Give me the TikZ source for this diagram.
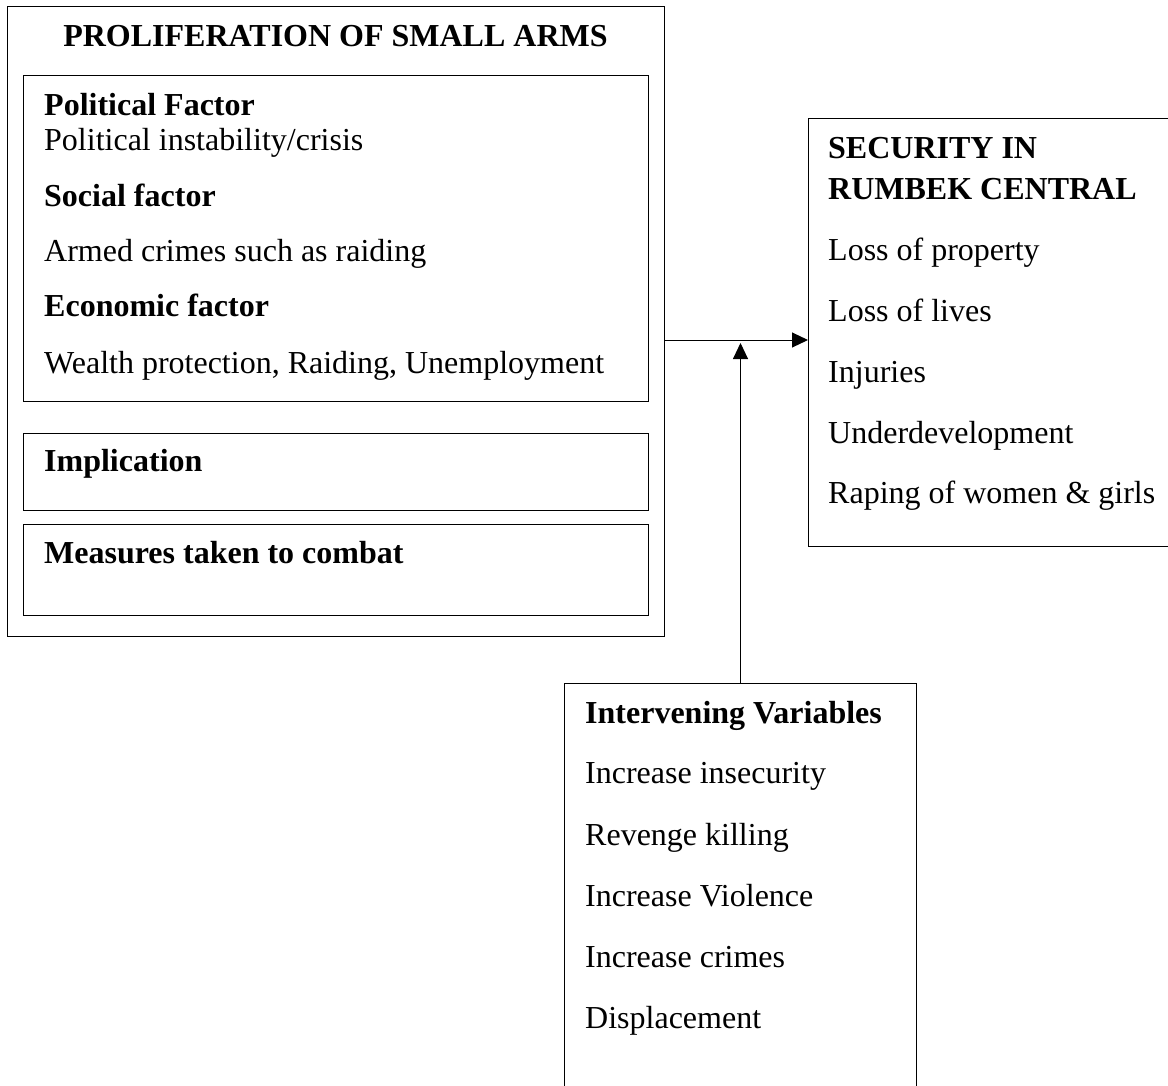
\documentclass[tikz,border=0pt]{standalone}
\usepackage{fontspec}
\setmainfont{Liberation Serif}
\usetikzlibrary{arrows.meta}
\begin{document}
\begin{tikzpicture}[x=1pt,y=-1pt,
  box/.style={draw=black, line width=1pt, inner sep=0pt, anchor=north west},
  txt/.style={anchor=base west, inner sep=0pt, font=\fontsize{32}{38}\selectfont},
  hd/.style={anchor=base west, inner sep=0pt, font=\fontsize{32}{38}\selectfont\bfseries},
  arr/.style={line width=1pt, -{Triangle[length=16pt,width=15pt]}}]
\clip (0,0) rectangle (1168,1085);
% boxes
\node[box, minimum width=657pt, minimum height=630pt] (outer) at (7,6) {};
\node[box, minimum width=625pt, minimum height=326pt] (factors) at (23,75) {};
\node[box, minimum width=625pt, minimum height=77pt] (impl) at (23,433) {};
\node[box, minimum width=625pt, minimum height=91pt] (meas) at (23,524) {};
\node[box, minimum width=420pt, minimum height=428pt] (security) at (808,118) {};
\node[box, minimum width=352pt, minimum height=460pt] (interv) at (564,683) {};
% left texts
\node[hd, anchor=base] (title) at (335.5,46) {PROLIFERATION OF SMALL ARMS};
\node[hd] (pf) at (44,115) {Political Factor};
\node[txt] (pi) at (44,150) {Political instability/crisis};
\node[hd] (sf) at (44,206) {Social factor};
\node[txt] (ac) at (44,261) {Armed crimes such as raiding};
\node[hd] (ef) at (44,316) {Economic factor};
\node[txt] (wp) at (44,373) {Wealth protection, Raiding, Unemployment};
\node[hd] (imt) at (44,471) {Implication};
\node[hd] (mst) at (44,563) {Measures taken to combat};
% right texts
\node[hd] (s1) at (828,158) {SECURITY IN};
\node[hd] (s2) at (828,199) {RUMBEK CENTRAL};
\node[txt] (r1) at (828,260) {Loss of property};
\node[txt] (r2) at (828,321) {Loss of lives};
\node[txt] (r3) at (828,382) {Injuries};
\node[txt] (r4) at (828,443) {Underdevelopment};
\node[txt] (r5) at (828,503) {Raping of women \& girls};
% bottom texts
\node[hd] (i0) at (585,723) {Intervening Variables};
\node[txt] (i1) at (585,783) {Increase insecurity};
\node[txt] (i2) at (585,845) {Revenge killing};
\node[txt] (i3) at (585,906) {Increase Violence};
\node[txt] (i4) at (585,967) {Increase crimes};
\node[txt] (i5) at (585,1028) {Displacement};
% connectors
\coordinate (hl) at (740,340);
\coordinate (vt) at (740,343);
\draw[arr] (outer.east |- hl) -- (security.west |- hl);
\draw[arr] (interv.north) -- (interv.north |- vt);
\end{tikzpicture}
\end{document}
